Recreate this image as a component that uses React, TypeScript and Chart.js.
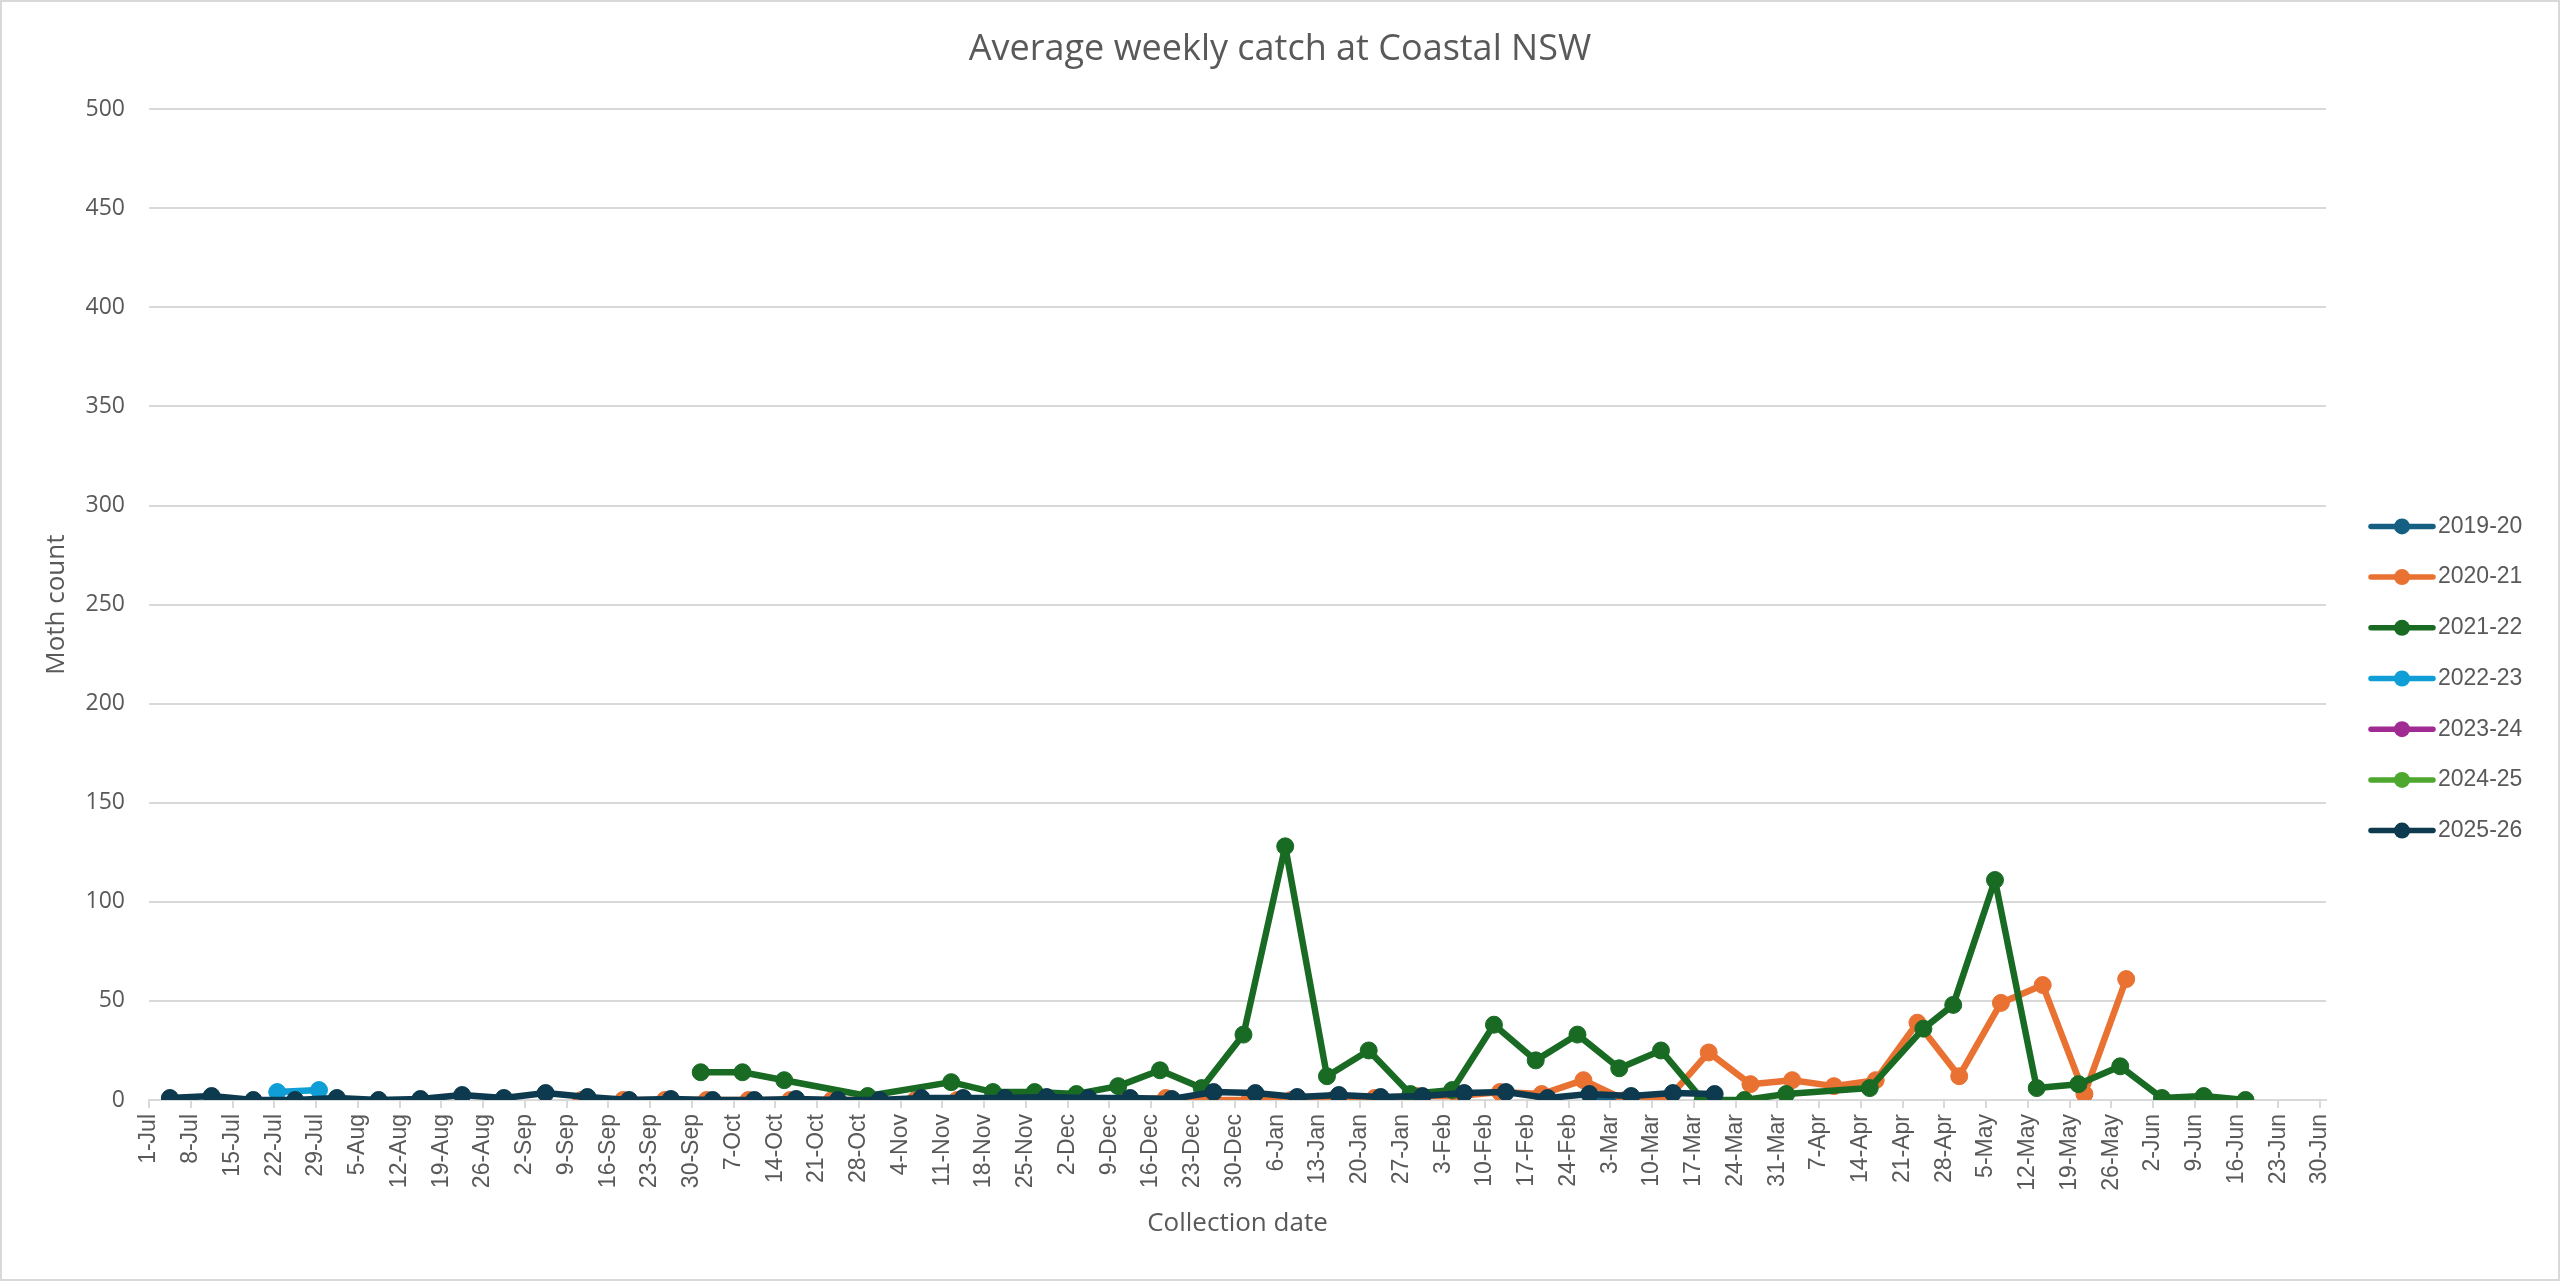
import React, { useEffect, useRef } from "react";
import { Chart, registerables } from "chart.js";

Chart.register(...registerables);

// x axis: one tick per week, day 0 = 1-Jul
const tickLabels = [
  "1-Jul", "8-Jul", "15-Jul", "22-Jul", "29-Jul", "5-Aug", "12-Aug", "19-Aug", "26-Aug",
  "2-Sep", "9-Sep", "16-Sep", "23-Sep", "30-Sep", "7-Oct", "14-Oct", "21-Oct", "28-Oct",
  "4-Nov", "11-Nov", "18-Nov", "25-Nov", "2-Dec", "9-Dec", "16-Dec", "23-Dec", "30-Dec",
  "6-Jan", "13-Jan", "20-Jan", "27-Jan", "3-Feb", "10-Feb", "17-Feb", "24-Feb", "3-Mar",
  "10-Mar", "17-Mar", "24-Mar", "31-Mar", "7-Apr", "14-Apr", "21-Apr", "28-Apr", "5-May",
  "12-May", "19-May", "26-May", "2-Jun", "9-Jun", "16-Jun", "23-Jun", "30-Jun",
];

const seasons = ["2019-20", "2020-21", "2021-22", "2022-23", "2023-24", "2024-25", "2025-26"];
const colors = ["#156082", "#E97132", "#196B24", "#0F9ED5", "#A02B93", "#4EA72E", "#0D3A4E"];

// collection day (days since 1-Jul) and moth count per season
const days1920 = [242, 248];
const vals1920 = [0, 0];

const days2021 = [72, 79, 86, 93, 100, 107, 114, 121, 128, 135, 142, 149, 156, 163, 170, 177, 184, 191, 198, 205, 212, 219, 226, 233, 240, 247, 254, 261, 268, 275, 282, 289, 296, 303, 310, 317, 324, 331];
const vals2021 = [0, 0, 0, 0, 0, 0, 0, 0, 0, 0, 0, 1, 0, 0, 1, 0, 0, 0, 0, 1, 2, 2, 4, 3, 10, 0, 0, 24, 8, 10, 7, 10, 39, 12, 49, 58, 3, 61];

const days2122 = [92, 99, 106, 120, 134, 141, 148, 155, 162, 169, 176, 183, 190, 197, 204, 211, 218, 225, 232, 239, 246, 253, 260, 267, 274, 288, 297, 302, 309, 316, 323, 330, 337, 344, 351];
const vals2122 = [14, 14, 10, 2, 9, 4, 4, 3, 7, 15, 6, 33, 128, 12, 25, 3, 5, 38, 20, 33, 16, 25, 0, 0, 3, 6, 36, 48, 111, 6, 8, 17, 1, 2, 0];

const days2223 = [21, 28];
const vals2223 = [4, 5];

const days2324: number[] = [];
const vals2324: number[] = [];

const days2425: number[] = [];
const vals2425: number[] = [];

const days2526 = [3, 10, 17, 24, 31, 38, 45, 52, 59, 66, 73, 80, 87, 94, 101, 108, 115, 122, 129, 136, 143, 150, 157, 164, 171, 178, 185, 192, 199, 206, 213, 220, 227, 234, 241, 248, 255, 262];
const vals2526 = [1, 2, 0, 0, 1, 0, 0.5, 2.5, 1, 3.5, 1.5, 0, 0.5, 0, 0, 0.5, 0, 0, 1, 1, 1, 1.5, 1, 1, 0.5, 4, 3.5, 1.5, 2.5, 1.5, 2, 3.5, 4, 1, 3, 2, 3.5, 3];

const allDays = [days1920, days2021, days2122, days2223, days2324, days2425, days2526];
const allVals = [vals1920, vals2021, vals2122, vals2223, vals2324, vals2425, vals2526];

const GREY = "#595959";
const GRID = "#d9d9d9";

// legend drawn by hand so each entry shows a line with a marker
const lineLegend = {
  id: "lineLegend",
  afterDraw(chart: any) {
    const { ctx, chartArea } = chart;
    const x0 = chartArea.right + 45;
    const gap = 50.7;
    const midY = chart.height / 2 + 38;
    const startY = midY - (gap * (seasons.length - 1)) / 2;
    ctx.save();
    seasons.forEach((name, i) => {
      const y = startY + i * gap;
      ctx.strokeStyle = colors[i];
      ctx.fillStyle = colors[i];
      ctx.lineWidth = 5.5;
      ctx.lineCap = "round";
      ctx.beginPath();
      ctx.moveTo(x0, y);
      ctx.lineTo(x0 + 62, y);
      ctx.stroke();
      ctx.beginPath();
      ctx.arc(x0 + 31, y, 8, 0, Math.PI * 2);
      ctx.fill();
      ctx.fillStyle = GREY;
      ctx.font = '23px "Liberation Sans"';
      ctx.textBaseline = "middle";
      ctx.textAlign = "left";
      ctx.fillText(name, x0 + 67, y);
    });
    ctx.restore();
  },
};

const App = () => {
  const chartRef = useRef<HTMLCanvasElement | null>(null);

  useEffect(() => {
    document.body.style.margin = "0";
    if (!chartRef.current) return;
    const ctx = chartRef.current.getContext("2d");
    if (!ctx) return;

    const tickDays = tickLabels.map((_, i) => i * 7);

    const chart = new Chart(ctx, {
      type: "line",
      data: {
        datasets: seasons.map((name, i) => ({
          label: name,
          data: allDays[i].map((d, j) => ({ x: d + 0.5, y: allVals[i][j] })),
          borderColor: colors[i],
          backgroundColor: colors[i],
          pointBackgroundColor: colors[i],
          pointBorderColor: colors[i],
          borderWidth: 6.5,
          borderJoinStyle: "round" as const,
          borderCapStyle: "round" as const,
          pointRadius: 8.5,
          pointBorderWidth: 1,
          tension: 0,
          order: seasons.length - i,
        })),
      },
      options: {
        animation: false,
        responsive: true,
        maintainAspectRatio: false,
        devicePixelRatio: 1,
        layout: { padding: 0 },
        plugins: {
          legend: { display: false },
          tooltip: { enabled: false },
          title: {
            display: true,
            text: "Average weekly catch at Coastal NSW",
            color: GREY,
            font: { family: "Open Sans", size: 36, weight: "normal" },
            padding: { top: 26, bottom: 38 },
          },
        },
        scales: {
          x: {
            type: "linear",
            min: 0,
            max: 365,
            afterBuildTicks: (axis: any) => {
              axis.ticks = tickDays.map((v) => ({ value: v }));
            },
            afterFit: (axis: any) => {
              axis.height = 179;
            },
            ticks: {
              autoSkip: false,
              minRotation: 90,
              maxRotation: 90,
              padding: 6,
              color: GREY,
              font: { family: "Liberation Sans", size: 23 },
              callback: (_v: any, i: number) => tickLabels[i],
            },
            grid: {
              drawOnChartArea: false,
              drawTicks: true,
              tickLength: 8,
              color: GRID,
              lineWidth: 2,
            },
            border: { display: true, color: GRID, width: 2 },
            title: {
              display: true,
              text: "Collection date",
              color: GREY,
              font: { family: "Open Sans", size: 26 },
              padding: { top: 0, bottom: 40 },
            },
          },
          y: {
            min: 0,
            max: 500,
            afterFit: (axis: any) => {
              axis.width = 147;
            },
            ticks: {
              stepSize: 50,
              padding: 24,
              color: GREY,
              font: { family: "Open Sans", size: 23 },
            },
            grid: { color: GRID, lineWidth: 2, drawTicks: false },
            border: { display: false },
            title: {
              display: true,
              text: "Moth count",
              color: GREY,
              font: { family: "Open Sans", size: 26 },
              padding: { top: 39, bottom: 0 },
            },
          },
          // empty axis on the right that only keeps room for the legend
          legendSpace: {
            type: "linear",
            position: "right",
            afterFit: (axis: any) => {
              axis.width = 232;
            },
            ticks: { display: false },
            grid: { display: false, drawTicks: false },
            border: { display: false },
          },
        },
      },
      plugins: [lineLegend],
    });

    return () => {
      chart.destroy();
    };
  }, []);

  return (
    <div
      style={{
        position: "absolute",
        left: 0,
        top: 0,
        width: "2560px",
        height: "1281px",
        border: "2px solid #d9d9d9",
        boxSizing: "border-box",
        background: "#fff",
      }}
    >
      <canvas ref={chartRef} style={{ display: "block" }}></canvas>
    </div>
  );
};

export default App;
